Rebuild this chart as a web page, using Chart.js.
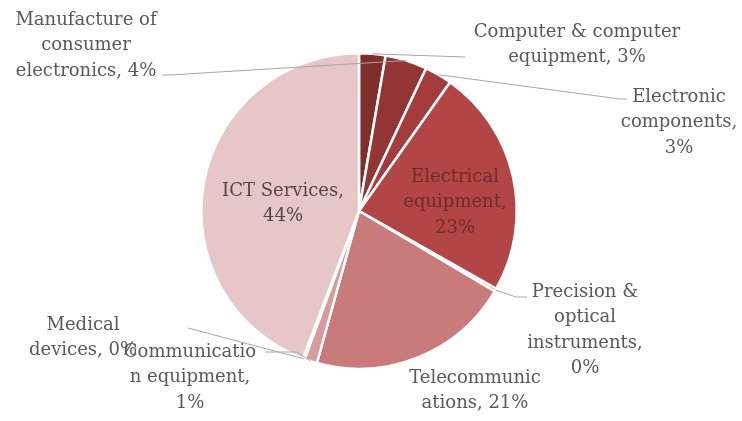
<!DOCTYPE html>
<html>
<head>
<meta charset="utf-8">
<script src="https://cdn.jsdelivr.net/npm/chart.js@4/dist/chart.umd.min.js"></script>
<style>
  html, body { margin: 0; padding: 0; background: #fff; }
  #wrap { width: 742px; height: 421px; }
</style>
</head>
<body>
<div id="wrap"><canvas id="pie"></canvas></div>
<script>
// sector shares, clockwise from 12 o'clock
var categories = [
    "Computer & computer equipment",
    "Manufacture of consumer electronics",
    "Electronic components",
    "Electrical equipment",
    "Precision & optical instruments",
    "Telecommunications",
    "Communication equipment",
    "Medical devices",
    "ICT Services"
]
var shares = [2.7, 4.3, 2.8, 23.4, 0.3, 20.8, 1.3, 0.2, 44.2]
var colors = ["#7f2d2d", "#933535", "#a53c3c", "#b24545", "#bd5a5a", "#c97a7a", "#d69c9c", "#dcb2b2", "#e6c6c6"]

// how each label is broken into lines (Excel wraps them)
var labelLines = [
    ["Computer & computer", "equipment, %"],
    ["Manufacture of", "consumer", "electronics, %"],
    ["Electronic", "components,", "%"],
    ["Electrical", "equipment,", "%"],
    ["Precision &", "optical", "instruments,", "%"],
    ["Telecommunic", "ations, %"],
    ["Communicatio", "n equipment,", "%"],
    ["Medical", "devices, %"],
    ["ICT Services,", "%"]
]

// label placement: text centre + first line y, leader elbow points (null = inside label)
var labelLayout = [
    { x: 577, y: 32, leader: [[465, 57]] },
    { x: 86, y: 20, leader: [[170, 75], [162, 75]] },
    { x: 679, y: 97, leader: [[620, 99], [627, 99]] },
    { x: 455, y: 177, color: "#6e2a2a", leader: null },
    { x: 585, y: 292, leader: [[516, 297], [527, 297]] },
    { x: 475, y: 378, leader: null },
    { x: 190, y: 352, leader: [[297, 352], [265, 352]] },
    { x: 83, y: 325, leader: [[188, 328]] },
    { x: 283, y: 191, color: "#5a4646", leader: null }
]

var pieLabels = {
    id: "pieLabels",
    afterDatasetsDraw: function (chart) {
        var ctx = chart.ctx
        var meta = chart.getDatasetMeta(0)
        var total = shares.reduce((a, b) => a + b, 0)
        ctx.save()
        ctx.font = "18px 'DejaVu Serif'"
        ctx.textAlign = "center"
        ctx.textBaseline = "middle"
        meta.data.forEach((arc, i) => {
            var p = arc.getProps(["x", "y", "startAngle", "endAngle", "outerRadius"], true)
            var mid = (p.startAngle + p.endAngle) / 2
            var lay = labelLayout[i]
            if (lay.leader) {
                ctx.strokeStyle = "#a6a6a6"
                ctx.lineWidth = 1
                ctx.beginPath()
                ctx.moveTo(p.x + Math.cos(mid) * p.outerRadius, p.y + Math.sin(mid) * p.outerRadius)
                lay.leader.forEach(pt => ctx.lineTo(pt[0], pt[1]))
                ctx.stroke()
            }
            var pct = Math.round(shares[i] / total * 100)
            ctx.fillStyle = lay.color || "#595959"
            labelLines[i].forEach((line, k) => {
                ctx.fillText(line.replace("%", pct + "%"), lay.x, lay.y + k * 25.5)
            })
        })
        ctx.restore()
    }
}

new Chart(document.getElementById("pie"), {
    type: "pie",
    data: {
        labels: categories,
        datasets: [{
            data: shares,
            backgroundColor: colors,
            borderColor: "#ffffff",
            borderWidth: 2.5
        }]
    },
    options: {
        responsive: true,
        maintainAspectRatio: false,
        animation: false,
        layout: { padding: { left: 200, right: 224, top: 52, bottom: 51 } },
        plugins: {
            legend: { display: false },
            tooltip: { enabled: false }
        }
    },
    plugins: [pieLabels]
})
</script>
</body>
</html>
